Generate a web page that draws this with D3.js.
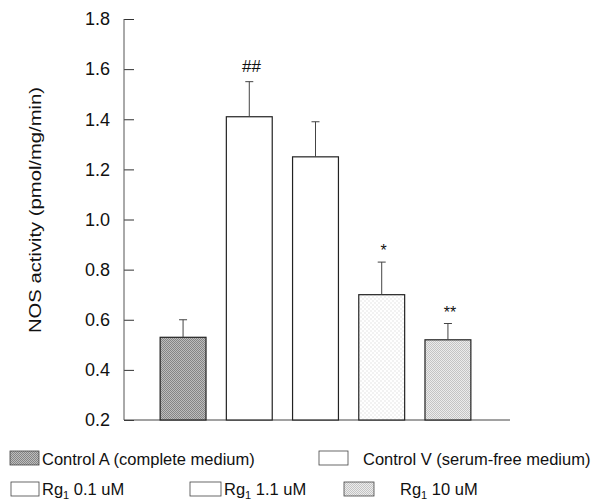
<!DOCTYPE html>
<meta charset="utf-8">
<style>
  html, body { margin: 0; background: #fff; }
  svg { display: block; font-family: "Liberation Sans", Arial, sans-serif; }
  .axis path, .axis line { stroke: #333; }
</style>
<svg id="chart" width="592" height="504"></svg>
<script src="https://cdn.jsdelivr.net/npm/d3@7"></script>
<script>
  // data
  const groups = ["Control A", "Control V", "Rg1 0.1", "Rg1 1.1", "Rg1 10"];
  const means = [0.53, 1.41, 1.25, 0.70, 0.52];
  const errs = [0.07, 0.14, 0.14, 0.13, 0.065];
  const marks = ["", "##", "", "*", "**"];
  const fills = ["url(#dark)", "#fff", "#fff", "url(#speck)", "url(#light)"];
  const yTicks = [0.2, 0.4, 0.6, 0.8, 1.0, 1.2, 1.4, 1.6, 1.8];

  const svg = d3.select("#chart");

  // stipple patterns to imitate the print screens
  const defs = svg.append("defs");
  function dots(id, bg, dot, step) {
    const p = defs.append("pattern").attr("id", id)
      .attr("width", step * 2).attr("height", step * 2)
      .attr("patternUnits", "userSpaceOnUse");
    p.append("rect").attr("width", step * 2).attr("height", step * 2).attr("fill", bg);
    p.append("rect").attr("width", step).attr("height", step).attr("fill", dot);
    p.append("rect").attr("x", step).attr("y", step).attr("width", step).attr("height", step).attr("fill", dot);
  }
  dots("dark", "#bdbdbd", "#858585", 1);
  dots("light", "#ececec", "#c4c4c4", 1);
  dots("speck", "#fff", "#f2f2f2", 2);

  const x = d3.scaleBand().domain(groups).range([150, 481]).paddingInner(0.307).paddingOuter(0.153);
  const y = d3.scaleLinear().domain([0.2, 1.8]).range([420, 19]);

  // y axis, ticks pointing inwards
  svg.append("g").attr("class", "axis")
    .attr("transform", "translate(124,0)")
    .call(d3.axisRight(y).tickValues(yTicks).tickFormat(d3.format(".1f")).tickSize(10).tickSizeOuter(0))
    .call(g => g.select(".domain").remove())
    .call(g => g.selectAll("text").attr("x", -14).attr("text-anchor", "end")
      .attr("font-size", 18).attr("fill", "#111"));
  svg.append("line").attr("x1", 124).attr("x2", 124)
    .attr("y1", y(1.8)).attr("y2", y(0.2)).attr("stroke", "#555");

  // baseline
  svg.append("line").attr("x1", 124).attr("x2", 510)
    .attr("y1", y(0.2)).attr("y2", y(0.2)).attr("stroke", "#444");

  const bars = svg.selectAll(".bar").data(groups).join("g").attr("class", "bar");
  bars.append("rect")
    .attr("x", d => x(d)).attr("width", x.bandwidth())
    .attr("y", (d, i) => y(means[i]))
    .attr("height", (d, i) => y(0.2) - y(means[i]))
    .attr("fill", (d, i) => fills[i])
    .attr("stroke", "#222").attr("stroke-width", 1.2);
  bars.append("line")
    .attr("x1", d => x(d) + x.bandwidth() / 2).attr("x2", d => x(d) + x.bandwidth() / 2)
    .attr("y1", (d, i) => y(means[i])).attr("y2", (d, i) => y(means[i] + errs[i]))
    .attr("stroke", "#444");
  bars.append("line")
    .attr("x1", d => x(d) + x.bandwidth() / 2 - 4).attr("x2", d => x(d) + x.bandwidth() / 2 + 4)
    .attr("y1", (d, i) => y(means[i] + errs[i])).attr("y2", (d, i) => y(means[i] + errs[i]))
    .attr("stroke", "#444");
  bars.append("text")
    .attr("x", d => x(d) + x.bandwidth() / 2 + 2)
    .attr("y", (d, i) => y(means[i] + errs[i]) - (marks[i] === "##" ? 10 : 6))
    .attr("text-anchor", "middle")
    .attr("font-size", (d, i) => marks[i] === "##" ? 17 : 16)
    .attr("font-style", (d, i) => marks[i] === "##" ? "italic" : "normal")
    .attr("fill", "#111")
    .text((d, i) => marks[i]);

  // y label
  svg.append("text")
    .attr("transform", "translate(41,210) rotate(-90)")
    .attr("text-anchor", "middle").attr("font-size", 17).attr("fill", "#111")
    .attr("textLength", 246).attr("lengthAdjust", "spacingAndGlyphs")
    .text("NOS activity (pmol/mg/min)");

  // legend
  const legend = [
    { box: [10, 451, 29, 14], fill: "url(#dark)", tx: 42, ty: 465, label: "Control A (complete medium)", sub: false },
    { box: [319, 451, 29, 14], fill: "#fff", tx: 363, ty: 465, label: "Control V (serum-free medium)", sub: false },
    { box: [11, 482, 28, 14], fill: "#fff", tx: 42, ty: 495, label: "0.1 uM", sub: true },
    { box: [190, 482, 31, 14], fill: "#fff", tx: 224, ty: 495, label: "1.1 uM", sub: true },
    { box: [344, 482, 30, 14], fill: "url(#light)", tx: 400, ty: 495, label: "10 uM", sub: true }
  ];
  const lg = svg.selectAll(".lg").data(legend).join("g").attr("class", "lg");
  lg.append("rect")
    .attr("x", d => d.box[0]).attr("y", d => d.box[1])
    .attr("width", d => d.box[2]).attr("height", d => d.box[3])
    .attr("fill", d => d.fill).attr("stroke", "#444").attr("stroke-width", 0.8);
  const lt = lg.append("text")
    .attr("x", d => d.tx).attr("y", d => d.ty)
    .attr("font-size", 16.5).attr("fill", "#111");
  lt.each(function(d) {
    const t = d3.select(this);
    if (d.sub) {
      t.append("tspan").text("Rg");
      t.append("tspan").attr("font-size", 11).attr("dy", 4).text("1");
      t.append("tspan").attr("dy", -4).text(" " + d.label);
    } else {
      t.text(d.label);
    }
  });
</script>
